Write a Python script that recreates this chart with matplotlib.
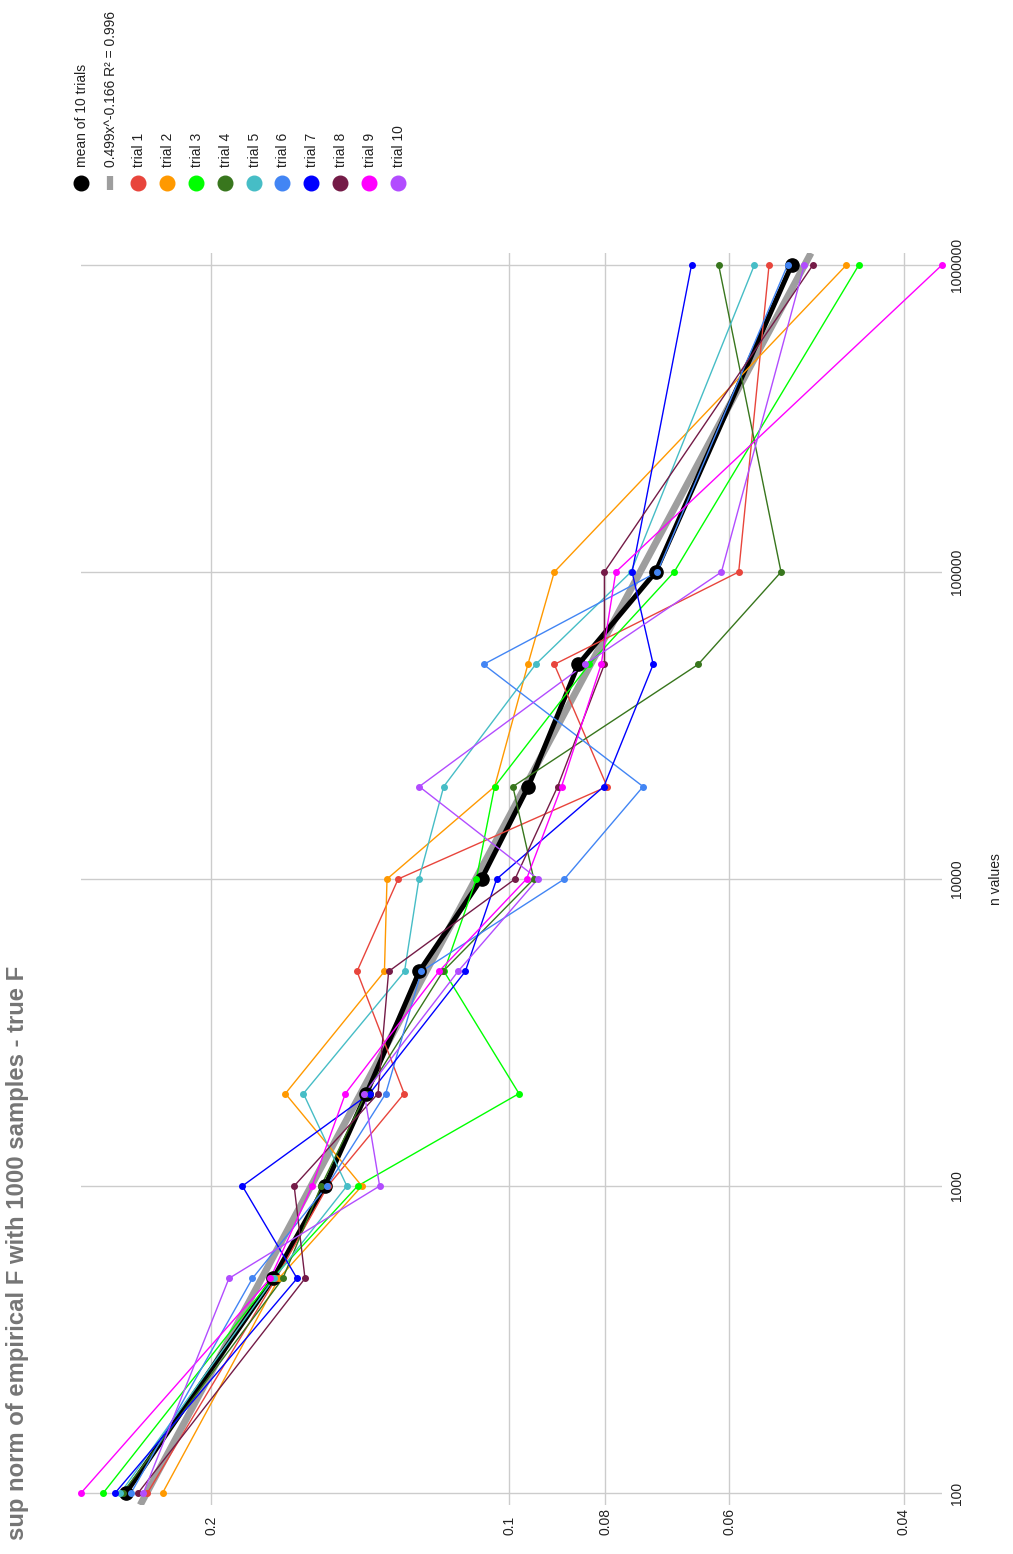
import numpy as np
import matplotlib
matplotlib.use("Agg")
import matplotlib.pyplot as plt
from matplotlib.lines import Line2D

plt.rcParams["font.family"] = ["Liberation Sans", "DejaVu Sans"]

# data
n_values = [100, 500, 1000, 2000, 5000, 10000, 20000, 50000, 100000, 1000000]
mean_values = [0.2438, 0.1731, 0.1535, 0.1394, 0.1233, 0.1067, 0.0957, 0.0852, 0.0712, 0.0519]

trial_1 = [0.2319, 0.1720, 0.1525, 0.1277, 0.1425, 0.1295, 0.0797, 0.0901, 0.0587, 0.0547]
trial_2 = [0.2239, 0.1709, 0.1409, 0.1683, 0.1337, 0.1329, 0.1035, 0.0958, 0.0901, 0.0457]
trial_3 = [0.2570, 0.1735, 0.1423, 0.0978, 0.1164, 0.1080, 0.1035, 0.0831, 0.0682, 0.0444]
trial_4 = [0.2457, 0.1693, 0.1549, 0.1396, 0.1167, 0.0945, 0.0992, 0.0645, 0.0532, 0.0615]
trial_5 = [0.2469, 0.1728, 0.1459, 0.1614, 0.1276, 0.1234, 0.1165, 0.0941, 0.0754, 0.0566]
trial_6 = [0.2409, 0.1817, 0.1528, 0.1333, 0.1227, 0.0880, 0.0733, 0.1062, 0.0709, 0.0524]
trial_7 = [0.2500, 0.1638, 0.1860, 0.1384, 0.1108, 0.1030, 0.0803, 0.0716, 0.0752, 0.0655]
trial_8 = [0.2370, 0.1608, 0.1649, 0.1357, 0.1324, 0.0987, 0.0894, 0.0802, 0.0802, 0.0494]
trial_9 = [0.2706, 0.1743, 0.1582, 0.1464, 0.1178, 0.0961, 0.0886, 0.0808, 0.0781, 0.0366]
trial_10 = [0.2341, 0.1919, 0.1352, 0.1401, 0.1127, 0.0936, 0.1233, 0.0839, 0.0611, 0.0504]

trial_values = [trial_1, trial_2, trial_3, trial_4, trial_5,
                trial_6, trial_7, trial_8, trial_9, trial_10]
trial_labels = ["trial %d" % (i + 1) for i in range(10)]
trial_colors = ["#e8453c", "#ff9900", "#00ff00", "#38761d", "#46bdc6",
                "#4285f4", "#0000ff", "#741b47", "#ff00ff", "#b24cff"]

fit_a = 0.499
fit_b = -0.166
fit_r2 = 0.996

value_ticks = [0.2, 0.1, 0.08, 0.06, 0.04]
value_tick_labels = ["0.2", "0.1", "0.08", "0.06", "0.04"]
n_ticks = [100, 1000, 10000, 100000, 1000000]
n_tick_labels = ["100", "1000", "10000", "100000", "1000000"]

W, H = 1013, 1554
fig = plt.figure(figsize=(W / 100, H / 100), dpi=100)
fig.patch.set_facecolor("white")

# chart is drawn rotated: value runs across, n runs up
ax = fig.add_axes([81 / W, 1 - 1505 / H, (942 - 81) / W, (1505 - 253) / H])
ax.set_xscale("log")
ax.set_yscale("log")

all_vals = np.concatenate([np.array(t) for t in trial_values] + [np.array(mean_values)])
ax.set_xlim(all_vals.max(), all_vals.min())
ylo, yhi = 10 ** 1.961, 10 ** 6.039
ax.set_ylim(ylo, yhi)

# trendline
n_fit = np.logspace(np.log10(ylo), np.log10(yhi), 60)
ax.plot(fit_a * n_fit ** fit_b, n_fit, color="#9e9e9e", lw=5, zorder=1.5,
        solid_capstyle="butt")

# mean line
ax.plot(mean_values, n_values, color="black", lw=3.6, zorder=2)
for vals, col in zip(trial_values, trial_colors):
    ax.plot(vals, n_values, color=col, lw=1.0, zorder=3)
ax.plot(mean_values, n_values, ls="none", marker="o", ms=9.5, color="black", zorder=4)
for vals, col in zip(trial_values, trial_colors):
    ax.plot(vals, n_values, ls="none", marker="o", ms=4, color=col, zorder=5,
            clip_on=False)

for s in ax.spines.values():
    s.set_visible(False)

ax.set_xticks(value_ticks)
ax.set_xticklabels(value_tick_labels)
ax.set_yticks(n_ticks)
ax.set_yticklabels(n_tick_labels)
ax.minorticks_off()
ax.grid(True, color="#cccccc", lw=1.0, zorder=0.5)
ax.set_axisbelow(True)

ax.tick_params(axis="x", length=0, pad=21.6, labelsize=10, labelcolor="#222222",
               labelrotation=90)
plt.setp(ax.get_xticklabels(), va="bottom", ha="center")
ax.yaxis.tick_right()
ax.tick_params(axis="y", length=0, pad=6, labelsize=10, labelcolor="#222222",
               labelrotation=90)
plt.setp(ax.get_yticklabels(), va="center", ha="left")

ax.yaxis.set_label_position("right")
ax.set_ylabel("n values", fontsize=10, color="#222222", rotation=90, labelpad=18)

fig.text(18 / W, 1 - 1540 / H, "sup norm of empirical F with 1000 samples - true F",
         rotation=90, ha="center", va="bottom", fontsize=17.2, fontweight="bold",
         color="#757575")

# legend, drawn rotated like the chart
legend_labels = ["mean of 10 trials",
                 "%.3fx^%.3f R\u00b2 = %.3f" % (fit_a, fit_b, fit_r2)] + trial_labels
legend_colors = ["black", "#9e9e9e"] + trial_colors
for i, (lab, col) in enumerate(zip(legend_labels, legend_colors)):
    x = (80.7 + i * 28.8) / W
    fig.text(x + 1 / W, 1 - 167 / H, lab, rotation=90, ha="center", va="bottom",
             fontsize=10, color="#222222")
    if i == 1:
        fig.add_artist(Line2D([x, x], [1 - 176 / H, 1 - 190 / H], color=col, lw=4.5,
                              transform=fig.transFigure, solid_capstyle="butt"))
    else:
        fig.add_artist(Line2D([x], [1 - 183 / H], marker="o", ms=10.5, color=col,
                              ls="none", transform=fig.transFigure))

fig.savefig("out.png", dpi=100)
